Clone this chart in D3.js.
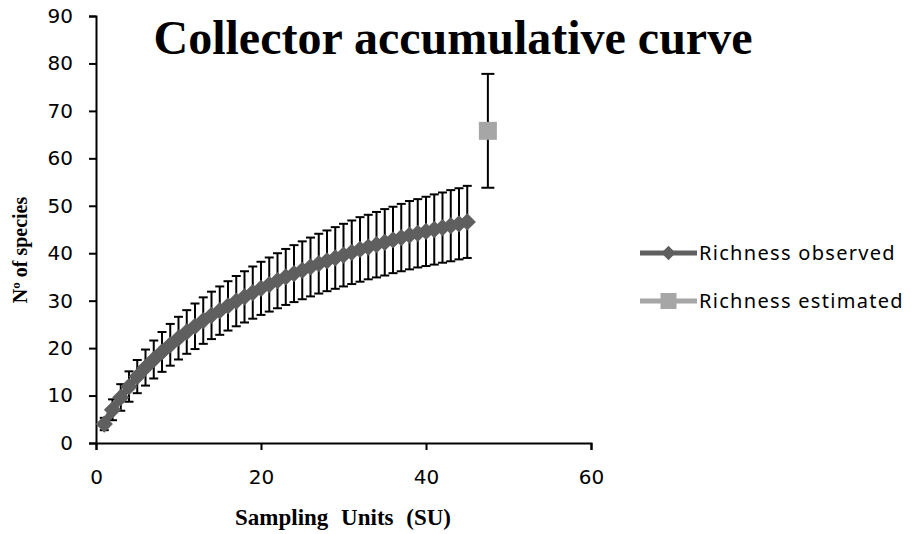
<!DOCTYPE html>
<html>
  <head>
    <meta charset="utf-8">
    <title>Collector accumulative curve</title>
    <script src="https://cdn.jsdelivr.net/npm/d3@7"></script>
    <style>
      body { margin: 0; background: #fff; }
      .tick text { font-family: "DejaVu Sans", sans-serif; font-size: 20px; fill: #000; }
      .title { font-family: "Liberation Serif", serif; font-weight: bold; }
      .legend text { font-family: "Noto Sans", sans-serif; font-size: 20px; letter-spacing: 1.3px; }
    </style>
  </head>
  <body>
    <div id="chart"></div>
    <script>
      (function(d3) {
        'use strict';

        // sampling units 1..45, observed richness and its sd
        var units = d3.range(1, 46);
        var observed = [4.0, 7.0, 9.6, 11.9, 14.0, 15.9, 17.6, 19.2, 20.7, 22.1,
                        23.4, 24.6, 25.8, 26.9, 27.9, 28.9, 29.9, 30.8, 31.7, 32.6,
                        33.4, 34.2, 35.0, 35.7, 36.4, 37.1, 37.8, 38.4, 39.0, 39.6,
                        40.2, 40.8, 41.3, 41.8, 42.3, 42.8, 43.3, 43.8, 44.2, 44.6,
                        45.0, 45.4, 45.8, 46.2, 46.6];
        var observedSd = [1.3, 2.2, 2.8, 3.2, 3.5, 3.8, 4.0, 4.2, 4.4, 4.5,
                          4.6, 4.8, 4.9, 5.0, 5.1, 5.2, 5.3, 5.4, 5.5, 5.6,
                          5.7, 5.8, 5.9, 6.0, 6.1, 6.2, 6.3, 6.4, 6.5, 6.6,
                          6.7, 6.8, 6.8, 6.9, 7.0, 7.0, 7.1, 7.2, 7.2, 7.3,
                          7.4, 7.4, 7.5, 7.5, 7.6];
        // estimated richness (single point)
        var estimatedX = [47.5];
        var estimated = [65.8];
        var estimatedSd = [12.0];

        var xTicks = [0, 20, 40, 60];
        var yTicks = [0, 10, 20, 30, 40, 50, 60, 70, 80, 90];
        var seriesNames = ['Richness observed', 'Richness estimated'];
        var seriesColors = ['#5f5f5f', '#a6a6a6'];

        var width = 912, height = 534;
        var x = d3.scaleLinear().domain([0, 60]).range([96, 591]);
        var y = d3.scaleLinear().domain([0, 90]).range([443, 16]);

        var svg = d3.select('#chart').append('svg')
          .attr('width', width)
          .attr('height', height);

        var obs = units.map(function(u, i) {
          return { x: u, y: observed[i], sd: observedSd[i] };
        });
        var est = estimatedX.map(function(u, i) {
          return { x: u, y: estimated[i], sd: estimatedSd[i] };
        });

        // axes
        svg.append('g')
          .attr('transform', 'translate(0,' + y(0) + ')')
          .call(d3.axisBottom(x).tickValues(xTicks).tickSize(7).tickPadding(20))
          .call(function(g) {
            g.select('.domain').attr('stroke-width', 2);
            g.selectAll('.tick line').attr('stroke-width', 2);
          });

        svg.append('g')
          .attr('transform', 'translate(' + x(0) + ',0)')
          .call(d3.axisLeft(y).tickValues(yTicks).tickSize(7).tickPadding(16))
          .call(function(g) {
            g.select('.domain').attr('stroke-width', 2);
            g.selectAll('.tick line').attr('stroke-width', 2);
          });

        // error bars
        function errorBars(data, cap) {
          var g = svg.append('g').attr('stroke', '#000').attr('stroke-width', 2);
          g.selectAll('line.v').data(data).enter().append('line')
            .attr('x1', function(d) { return x(d.x); })
            .attr('x2', function(d) { return x(d.x); })
            .attr('y1', function(d) { return y(d.y - d.sd); })
            .attr('y2', function(d) { return y(d.y + d.sd); });
          [-1, 1].forEach(function(s) {
            g.selectAll(null).data(data).enter().append('line')
              .attr('x1', function(d) { return x(d.x) - cap; })
              .attr('x2', function(d) { return x(d.x) + cap; })
              .attr('y1', function(d) { return y(d.y + s * d.sd); })
              .attr('y2', function(d) { return y(d.y + s * d.sd); });
          });
        }
        errorBars(obs, 4.5);
        errorBars(est, 6.5);

        // observed line + diamonds
        var line = d3.line()
          .x(function(d) { return x(d.x); })
          .y(function(d) { return y(d.y); });
        svg.append('path')
          .datum(obs)
          .attr('d', line)
          .attr('fill', 'none')
          .attr('stroke', seriesColors[0])
          .attr('stroke-width', 7);

        var diamond = d3.symbol().type(d3.symbolDiamond2).size(190);
        svg.selectAll('.obs').data(obs).enter().append('path')
          .attr('class', 'obs')
          .attr('d', diamond)
          .attr('transform', function(d) { return 'translate(' + x(d.x) + ',' + y(d.y) + ')'; })
          .attr('fill', seriesColors[0]);

        // estimated square
        var sq = 18;
        svg.selectAll('.est').data(est).enter().append('rect')
          .attr('class', 'est')
          .attr('x', function(d) { return x(d.x) - sq / 2; })
          .attr('y', function(d) { return y(d.y) - sq / 2; })
          .attr('width', sq)
          .attr('height', sq)
          .attr('fill', seriesColors[1]);

        // titles
        svg.append('text')
          .attr('class', 'title')
          .attr('x', 453).attr('y', 54)
          .attr('text-anchor', 'middle')
          .style('font-size', '48px')
          .text('Collector accumulative curve');

        svg.append('text')
          .attr('class', 'title')
          .attr('x', 343).attr('y', 525)
          .attr('text-anchor', 'middle')
          .style('font-size', '23px')
          .style('word-spacing', '7px')
          .text('Sampling Units (SU)');

        svg.append('text')
          .attr('class', 'title')
          .attr('transform', 'translate(27,250) rotate(-90)')
          .attr('text-anchor', 'middle')
          .style('font-size', '20px')
          .text('Nº of species');

        // legend
        var legend = svg.selectAll('.legend').data(seriesNames).enter().append('g')
          .attr('class', 'legend')
          .attr('transform', function(d, i) { return 'translate(640,' + (253 + i * 48) + ')'; });
        legend.append('line')
          .attr('x1', 0).attr('x2', 57)
          .attr('stroke', function(d, i) { return seriesColors[i]; })
          .attr('stroke-width', 5);
        legend.filter(function(d, i) { return i === 0; }).append('path')
          .attr('d', d3.symbol().type(d3.symbolDiamond2).size(130))
          .attr('transform', 'translate(28.5,0)')
          .attr('fill', seriesColors[0]);
        legend.filter(function(d, i) { return i === 1; }).append('rect')
          .attr('x', 28.5 - 8).attr('y', -8)
          .attr('width', 16).attr('height', 16)
          .attr('fill', seriesColors[1]);
        legend.append('text')
          .attr('x', 59)
          .attr('dy', '0.35em')
          .text(function(d) { return d; });

      })(window.d3);
    </script>
  </body>
</html>
